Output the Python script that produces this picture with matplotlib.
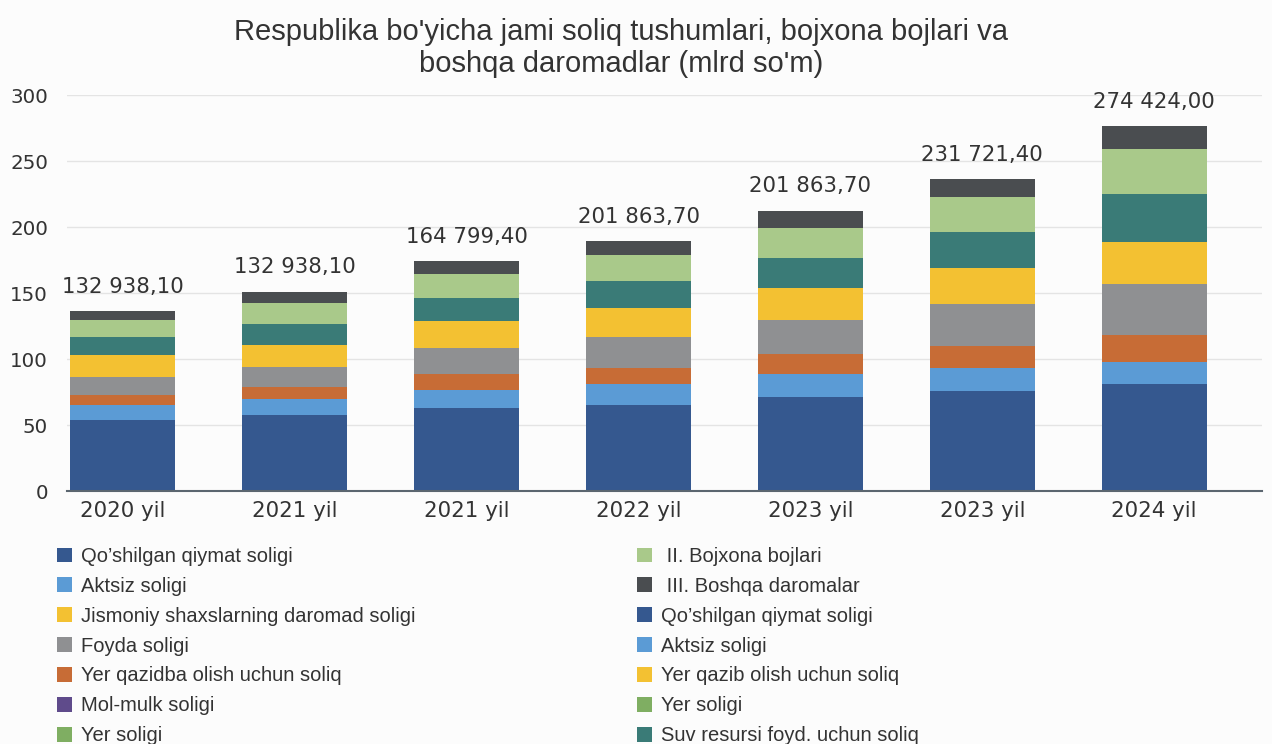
import matplotlib
matplotlib.use('Agg')
import matplotlib.pyplot as plt
from matplotlib.patches import Patch
import numpy as np

plt.rcParams['font.family'] = ['Liberation Sans', 'DejaVu Sans']

# ---------------- data ----------------
categories = ['2020 yil', '2021 yil', '2021 yil', '2022 yil', '2023 yil', '2023 yil', '2024 yil']
total_labels = ['132 938,10', '132 938,10', '164 799,40', '201 863,70',
                '201 863,70', '231 721,40', '274 424,00']

qqs = [54.3, 58.1, 63.1, 65.4, 71.5, 76.0, 81.6]          # Qo'shilgan qiymat soligi
aktsiz = [10.9, 12.1, 13.9, 15.9, 17.7, 17.7, 16.4]       # Aktsiz soligi
yer_qazidba = [7.5, 8.6, 12.2, 11.9, 15.1, 16.1, 20.2]    # Yer qazidba olish uchun soliq
foyda = [13.9, 15.4, 19.4, 23.7, 25.8, 32.1, 38.6]        # Foyda soligi
jismoniy = [16.4, 16.9, 20.2, 22.3, 24.2, 27.3, 31.6]     # Jismoniy shaxslar daromad soligi
suv = [14.2, 15.7, 17.6, 19.7, 22.0, 26.8, 36.6]          # Suv resursi
bojxona = [12.8, 15.9, 18.2, 19.9, 23.2, 26.8, 33.8]      # Bojxona bojlari
boshqa = [6.4, 8.6, 9.6, 10.8, 13.1, 13.8, 17.5]          # Boshqa daromadlar

legend_left = ['Qo\u2019shilgan qiymat soligi', 'Aktsiz soligi',
               'Jismoniy shaxslarning daromad soligi', 'Foyda soligi',
               'Yer qazidba olish uchun soliq', 'Mol-mulk soligi', 'Yer soligi']
legend_right = [' II. Bojxona bojlari', ' III. Boshqa daromalar',
                'Qo\u2019shilgan qiymat soligi', 'Aktsiz soligi',
                'Yer qazib olish uchun soliq', 'Yer soligi',
                'Suv resursi foyd. uchun soliq']

title = ("Respublika bo'yicha jami soliq tushumlari, bojxona bojlari va\n"
         "boshqa daromadlar (mlrd so'm)")

# ---------------- styles ----------------
C_BLUE = '#35588F'
C_LBLUE = '#5B9BD5'
C_ORANGE = '#C76C36'
C_GRAY = '#8F9092'
C_YELLOW = '#F3C132'
C_TEAL = '#3A7B77'
C_LGREEN = '#A9C98A'
C_DGRAY = '#4A4D50'
C_PURPLE = '#5F4B8B'
C_GREEN = '#7FAE62'
TXT = '#333333'
WIDE = ['DejaVu Sans']

series = [(qqs, C_BLUE), (aktsiz, C_LBLUE), (yer_qazidba, C_ORANGE),
          (foyda, C_GRAY), (jismoniy, C_YELLOW), (suv, C_TEAL),
          (bojxona, C_LGREEN), (boshqa, C_DGRAY)]
colors_left = [C_BLUE, C_LBLUE, C_YELLOW, C_GRAY, C_ORANGE, C_PURPLE, C_GREEN]
colors_right = [C_LGREEN, C_DGRAY, C_BLUE, C_LBLUE, C_YELLOW, C_GREEN, C_TEAL]

fig = plt.figure(figsize=(12.72, 7.44), dpi=100, facecolor='#FCFCFC')
ax = fig.add_axes([0.0527, 0.3394, 0.9394, 0.5329])
ax.set_facecolor('#FCFCFC')

x = np.arange(len(categories))
bottom = np.zeros(len(categories))
for vals, col in series:
    v = np.array(vals)
    ax.bar(x, v, 0.61, bottom=bottom, color=col, linewidth=0, zorder=2)
    bottom += v

for xi, tot, lbl in zip(x, bottom, total_labels):
    ax.annotate(lbl, (xi, tot), xytext=(0, 13), textcoords='offset points',
                ha='center', va='baseline', fontsize=15.3, color=TXT,
                family=WIDE)

ax.set_xlim(-0.325, 6.627)
ax.set_ylim(0, 300)
ax.set_yticks(range(0, 301, 50))
ax.set_xticks(x)
ax.set_xticklabels(categories)
ax.yaxis.grid(True, color='#E4E4E4', linewidth=1)
ax.set_axisbelow(True)
for s in ['top', 'right', 'left']:
    ax.spines[s].set_visible(False)
ax.spines['bottom'].set_color('#5B6670')
ax.spines['bottom'].set_linewidth(1.5)
ax.spines['bottom'].set_zorder(3)
ax.tick_params(axis='y', length=0, labelsize=14.3, colors=TXT, pad=13.7)
ax.tick_params(axis='x', length=0, labelsize=15.4, colors=TXT, pad=7)
for t in ax.get_xticklabels() + ax.get_yticklabels():
    t.set_family(WIDE)

fig.text(0.488, 0.9355, title, ha='center', va='center', fontsize=21,
         color=TXT, linespacing=1.15, multialignment='center')

common = dict(loc='upper left', frameon=False, fontsize=14.5, handlelength=0.75,
              handleheight=0.75, handletextpad=0.45, labelspacing=0.54,
              borderpad=0, borderaxespad=0, labelcolor=TXT)
h_left = [Patch(facecolor=c, edgecolor='none') for c in colors_left]
h_right = [Patch(facecolor=c, edgecolor='none') for c in colors_right]
fig.legend(h_left, legend_left, bbox_to_anchor=(0.0448, 0.2648), **common)
fig.legend(h_right, legend_right, bbox_to_anchor=(0.5008, 0.2648), **common)

fig.savefig('out.png', dpi=100, facecolor=fig.get_facecolor())
